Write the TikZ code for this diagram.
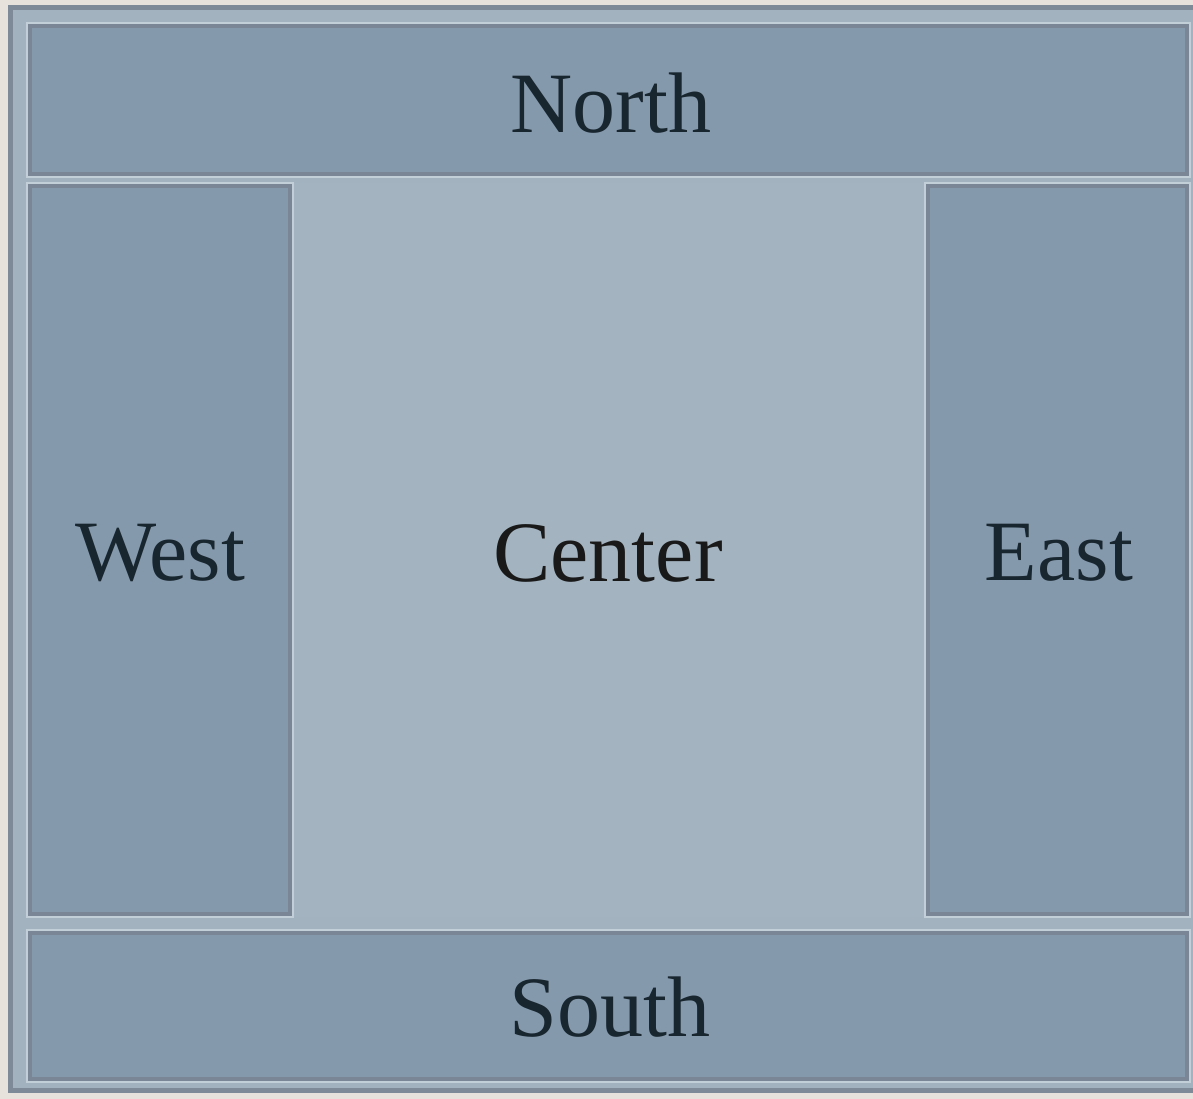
\documentclass[tikz,border=0pt]{standalone}
\usepackage{fontspec}
\setmainfont{Liberation Serif}
\definecolor{bgpaper}{HTML}{E7E3DC}
\definecolor{framefill}{HTML}{A2B3BF}
\definecolor{framedark}{HTML}{7F8A98}
\definecolor{boxfill}{HTML}{8599AC}
\definecolor{boxdark}{HTML}{7A8596}
\definecolor{hilite}{HTML}{C3CFD8}
\definecolor{centerfill}{HTML}{A3B4C0}
\definecolor{inkdark}{HTML}{18262F}
\tikzset{
  region/.style={fill=boxfill, draw=hilite, line width=1.5pt},
  regionedge/.style={draw=boxdark, line width=4pt},
  label/.style={font=\fontsize{86}{90}\selectfont, text=inkdark},
}
\begin{document}
\begin{tikzpicture}[x=1pt,y=-1pt]
\useasboundingbox (0,0) rectangle (1193,1099);
\fill[bgpaper] (0,0) rectangle (1193,1099);
% outer frame
\fill[framefill] (8,5) rectangle (1205,1093);
\draw[framedark, line width=5pt] (10.5,7.5) rectangle (1202,1090.5);
% centre area (lighter)
\fill[centerfill] (293,183) rectangle (925,917);
% north
\draw[region] (27,23) rectangle (1190,177);
\draw[regionedge] (30,26) rectangle (1187,174);
% west
\draw[region] (27,183) rectangle (293,917);
\draw[regionedge] (30,186) rectangle (290,914);
% east
\draw[region] (925,183) rectangle (1190,917);
\draw[regionedge] (928,186) rectangle (1187,914);
% south
\draw[region] (27,930) rectangle (1190,1082);
\draw[regionedge] (30,933) rectangle (1187,1079);
% labels
\node[label] (north) at (611,103) {North};
\node[label] (west) at (160,553) {West};
\node[label] (east) at (1059,553) {East};
\node[label] (south) at (610,1007) {South};
\node[label, text=black!90] (center) at (608,553) {Center};
\end{tikzpicture}
\end{document}
